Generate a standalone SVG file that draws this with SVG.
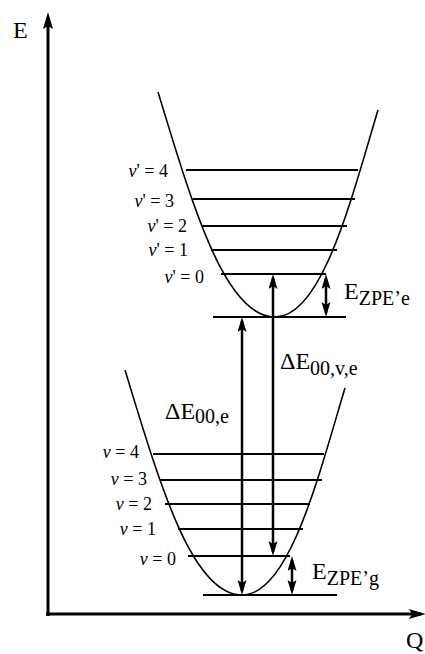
<svg xmlns="http://www.w3.org/2000/svg" width="425" height="654" viewBox="0 0 425 654" font-family="'Liberation Serif', 'Times New Roman', serif">
<style>
text{font-family:'Liberation Serif','Times New Roman',serif;fill:#000}
.lbl{font-size:18px}
.big{font-size:24px}
.sub{font-size:20px}
.curve{fill:none;stroke:#000;stroke-width:1.6}
.lvl{stroke:#000;stroke-width:2}
.arr{stroke:#000;stroke-width:2.5;fill:none;marker-start:url(#ah);marker-end:url(#ah)}
.axis{stroke:#000;stroke-width:3;fill:none;marker-end:url(#ax)}
</style>
<defs>
<marker id="ah" markerUnits="userSpaceOnUse" markerWidth="16" markerHeight="10" refX="11" refY="4.5" orient="auto-start-reverse">
<path d="M0,0 L15,4.5 L0,9 L3,4.5 z" fill="#000"/>
</marker>
<marker id="ax" markerUnits="userSpaceOnUse" markerWidth="18" markerHeight="12" refX="12" refY="5" orient="auto">
<path d="M0,0 L17,5 L0,10 L3,5 z" fill="#000"/>
</marker>
</defs>
<g id="axes">
<path class="axis" d="M48,616 L48,17"/>
<path class="axis" d="M46,614 L421,614"/>
<text class="big" x="13" y="38">E</text>
<text class="big" x="406" y="648">Q</text>
</g>
<g id="excited">
<path class="curve" d="M158,92 C193,207 225,317 275,317 C322,317 351,200 378,110"/>
<line class="lvl" x1="186" y1="170" x2="358" y2="170"/>
<line class="lvl" x1="193" y1="199" x2="355" y2="199"/>
<line class="lvl" x1="202" y1="226" x2="347" y2="226"/>
<line class="lvl" x1="211" y1="250" x2="337" y2="250"/>
<line class="lvl" x1="221" y1="274" x2="326" y2="274"/>
<line class="lvl" x1="213" y1="317" x2="346" y2="317"/>
<text class="lbl" text-anchor="end" x="168" y="177"><tspan font-style="italic">v</tspan>' = 4</text>
<text class="lbl" text-anchor="end" x="174" y="207"><tspan font-style="italic">v</tspan>' = 3</text>
<text class="lbl" text-anchor="end" x="187" y="232"><tspan font-style="italic">v</tspan>' = 2</text>
<text class="lbl" text-anchor="end" x="188" y="256"><tspan font-style="italic">v</tspan>' = 1</text>
<text class="lbl" text-anchor="end" x="204" y="283"><tspan font-style="italic">v</tspan>' = 0</text>
</g>
<g id="ground">
<path class="curve" d="M125,370 C160,485 192,595 242,595 C289,595 318,478 345,388"/>
<line class="lvl" x1="153" y1="454" x2="324" y2="454"/>
<line class="lvl" x1="160" y1="480" x2="322" y2="480"/>
<line class="lvl" x1="165" y1="504" x2="310" y2="504"/>
<line class="lvl" x1="178" y1="529" x2="303" y2="529"/>
<line class="lvl" x1="188" y1="556" x2="290" y2="556"/>
<line class="lvl" x1="203" y1="595" x2="337" y2="595"/>
<text class="lbl" text-anchor="end" x="139" y="458"><tspan font-style="italic">v</tspan> = 4</text>
<text class="lbl" text-anchor="end" x="147" y="485"><tspan font-style="italic">v</tspan> = 3</text>
<text class="lbl" text-anchor="end" x="152" y="510"><tspan font-style="italic">v</tspan> = 2</text>
<text class="lbl" text-anchor="end" x="156" y="535"><tspan font-style="italic">v</tspan> = 1</text>
<text class="lbl" text-anchor="end" x="176" y="565"><tspan font-style="italic">v</tspan> = 0</text>
</g>
<g id="connectors">
<line class="arr" x1="326" y1="278" x2="326" y2="313"/>
<line class="arr" x1="242" y1="321" x2="242" y2="591"/>
<line class="arr" x1="273" y1="278" x2="273" y2="552"/>
<line class="arr" x1="292" y1="560" x2="292" y2="591"/>
</g>
<g id="labels">
<text class="big" x="344" y="299">E<tspan class="sub" dy="6">ZPE’e</tspan></text>
<text class="big" x="312" y="579">E<tspan class="sub" dy="6">ZPE’g</tspan></text>
<text class="big" x="280" y="369">ΔE<tspan class="sub" dy="6">00,v,e</tspan></text>
<text class="big" x="165" y="419">ΔE<tspan class="sub" dy="4">00,e</tspan></text>
</g>
</svg>
